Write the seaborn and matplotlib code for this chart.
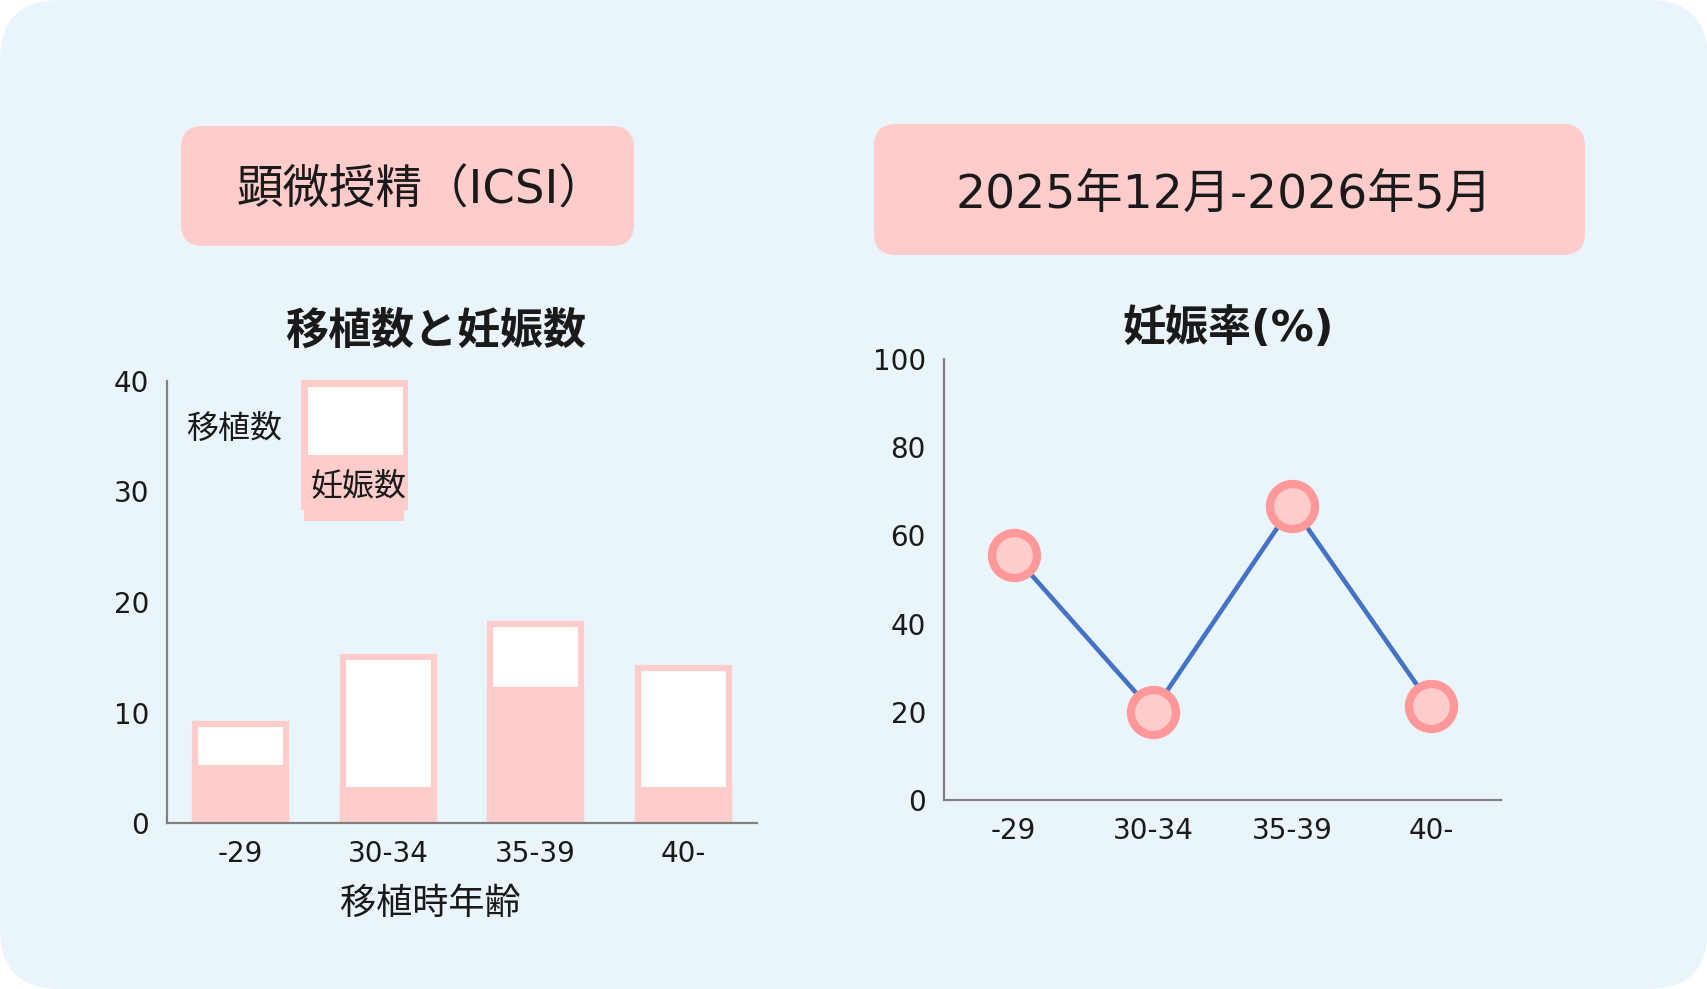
import matplotlib.pyplot as plt
import seaborn as sns
from matplotlib.patches import FancyBboxPatch, Rectangle
from matplotlib.transforms import IdentityTransform

ages = ["-29", "30-34", "35-39", "40-"]
transfers = [9, 15, 18, 14]      # 移植数
pregnancies = [5, 3, 12, 3]      # 妊娠数
rates = [55.6, 20.0, 66.7, 21.4]  # 妊娠率(%)

pink = "#FFCCCC"
pink_dark = "#FF9999"
blue = "#4472C4"
bg = "#EAF5FB"
grey = "#808080"
ink = "#1A1A1A"

sns.set_theme(style="white")
plt.rcParams["font.family"] = ["DejaVu Sans", "Noto Sans CJK JP"]

W, H = 1708, 989
fig = plt.figure(figsize=(W / 100, H / 100), dpi=100)
fig.patch.set_facecolor("white")


def rbox(x, y, w, h, r, color, z):
    # pixel box, y measured from the top
    p = FancyBboxPatch((x, H - y - h), w, h, boxstyle=f"round,pad=0,rounding_size={r}",
                       transform=IdentityTransform(), facecolor=color,
                       edgecolor="none", zorder=z)
    fig.add_artist(p)


rbox(0, 0, W, H, 60, bg, -5)
rbox(181, 126, 453, 120, 22, pink, -4)
rbox(874, 124, 711, 131, 22, pink, -4)

fig.text(421 / W, 1 - 191 / H, "顕微授精（ICSI）", ha="center", va="center", fontsize=33.5, color=ink)
fig.text(1224 / W, 1 - 196 / H, "2025年12月-2026年5月", ha="center", va="center", fontsize=34, color=ink)
fig.text(436 / W, 1 - 332 / H, "移植数と妊娠数", ha="center", va="center", fontsize=31,
         fontweight="bold", color=ink)
fig.text(1228 / W, 1 - 329 / H, "妊娠率(%)", ha="center", va="center", fontsize=31,
         fontweight="bold", color=ink)

# left: bars
ax1 = fig.add_axes([167 / W, 1 - 823 / H, 590 / W, 442 / H])
ax1.set_facecolor("none")
sns.barplot(x=ages, y=transfers, color="white", saturation=1, edgecolor=pink,
            linewidth=4.5, width=0.62, ax=ax1)
sns.barplot(x=ages, y=pregnancies, color=pink, saturation=1, edgecolor=pink,
            linewidth=4.5, width=0.62, ax=ax1)
ax1.set_xlim(-0.5, 3.5)
ax1.set_ylim(0, 40)
ax1.set_yticks([0, 10, 20, 30, 40])
sns.despine(ax=ax1)
for s in ["left", "bottom"]:
    ax1.spines[s].set_color(grey)
    ax1.spines[s].set_linewidth(1.6)
ax1.tick_params(axis="y", length=4, width=1.2, color=grey, pad=9, labelsize=20, labelcolor=ink)
ax1.tick_params(axis="x", length=0, pad=12, labelsize=20, labelcolor=ink)
ax1.set_ylabel("")
ax1.set_xlabel("移植時年齢", fontsize=26, color=ink)
ax1.xaxis.set_label_coords(0.446, -0.145)

# legend box
ax1.add_patch(Rectangle((0.227, 0.708), 0.181, 0.294, transform=ax1.transAxes,
                        facecolor=pink, edgecolor="none", clip_on=False))
ax1.add_patch(Rectangle((0.233, 0.683), 0.169, 0.03, transform=ax1.transAxes,
                        facecolor=pink, edgecolor="none", clip_on=False))
ax1.add_patch(Rectangle((0.239, 0.833), 0.161, 0.153, transform=ax1.transAxes,
                        facecolor="white", edgecolor="none", clip_on=False))
ax1.text(0.114, 0.891, "移植数", transform=ax1.transAxes, ha="center", va="center",
         fontsize=23, color=ink)
ax1.text(0.324, 0.762, "妊娠数", transform=ax1.transAxes, ha="center", va="center",
         fontsize=23, color=ink)

# right: rate line
ax2 = fig.add_axes([944 / W, 1 - 800 / H, 557 / W, 441 / H])
ax2.set_facecolor("none")
sns.lineplot(x=ages, y=rates, color=blue, linewidth=3.3, sort=False, ax=ax2, zorder=2)
sns.scatterplot(x=ages, y=rates, s=1050, color=pink, edgecolor=pink_dark, linewidth=6,
                ax=ax2, zorder=3, clip_on=False)
ax2.set_xlim(-0.5, 3.5)
ax2.set_ylim(0, 100)
ax2.set_yticks([0, 20, 40, 60, 80, 100])
ax2.set_xticks([3.5], minor=True)
sns.despine(ax=ax2)
for s in ["left", "bottom"]:
    ax2.spines[s].set_color(grey)
    ax2.spines[s].set_linewidth(1.6)
ax2.tick_params(axis="y", length=4, width=1.2, color=grey, pad=9, labelsize=20, labelcolor=ink)
ax2.tick_params(axis="x", which="both", direction="in", length=6, width=1.2, color=grey,
                pad=12, labelsize=20, labelcolor=ink)
ax2.set_xlabel("")
ax2.set_ylabel("")

fig.savefig("out.png", dpi=100)
